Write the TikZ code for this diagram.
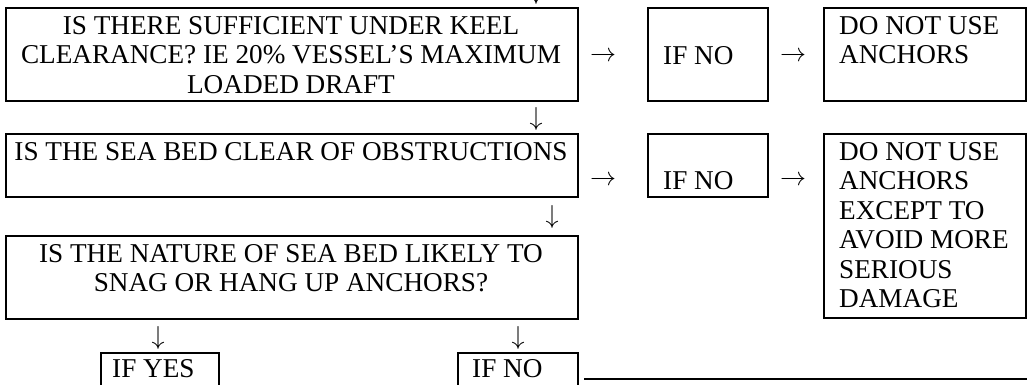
\documentclass[tikz,border=0pt]{standalone}
\usepackage{fontspec}
\usepackage{graphicx}
\setmainfont{Liberation Serif}
\usetikzlibrary{calc}
\newcommand{\myrarr}{\scalebox{2.6}{$\rightarrow$}}
\newcommand{\mydarr}{\scalebox{2.6}{$\downarrow$}}
\begin{document}
\begin{tikzpicture}[x=1pt,y=-1pt,
  box/.style={draw, line width=2pt, inner sep=0pt, anchor=north west},
  txt/.style={inner sep=0pt, font=\fontsize{27.2}{29.5}\selectfont},
  ctxt/.style={txt, anchor=north, align=center},
  ltxt/.style={txt, anchor=north west, align=left},
  arr/.style={inner sep=0pt}]
\useasboundingbox (0,0) rectangle (1027,385);
% boxes
\node[box, minimum width=572pt, minimum height=93pt] (q1) at (5,7) {};
\node[box, minimum width=120pt, minimum height=93pt] (n1) at (647,7) {};
\node[box, minimum width=202pt, minimum height=93pt] (d1) at (823,7) {};
\node[box, minimum width=572pt, minimum height=63pt] (q2) at (5,133) {};
\node[box, minimum width=120pt, minimum height=63pt] (n2) at (647,133) {};
\node[box, minimum width=202pt, minimum height=184pt] (d2) at (823,133) {};
\node[box, minimum width=572pt, minimum height=83pt] (q3) at (5,235) {};
\node[box, minimum width=118pt, minimum height=52pt] (y1) at (100,352) {};
\node[box, minimum width=120pt, minimum height=52pt] (n3) at (457,352) {};
% texts
\node[ctxt] (q1t) at (291,16) {IS THERE SUFFICIENT UNDER KEEL\\CLEARANCE? IE 20\% VESSEL’S MAXIMUM\\LOADED DRAFT};
\node[ltxt] (n1t) at (663,46) {IF NO};
\node[ltxt] (d1t) at (839,16) {DO NOT USE\\ANCHORS};
\node[ctxt] (q2t) at (291,142) {IS THE SEA BED CLEAR OF OBSTRUCTIONS};
\node[ltxt] (n2t) at (663,171) {IF NO};
\node[ltxt] (d2t) at (839,142) {DO NOT USE\\ANCHORS\\EXCEPT TO\\AVOID MORE\\SERIOUS\\DAMAGE};
\node[ctxt] (q3t) at (291,244) {IS THE NATURE OF SEA BED LIKELY TO\\SNAG OR HANG UP ANCHORS?};
\node[ltxt] (y1t) at (112,359) {IF YES};
\node[ltxt] (n3t) at (472,359) {IF NO};
% arrow glyphs
\node[arr] (a0) at (536,-7) {\mydarr};
\node[arr] (a1) at (603,57) {\myrarr};
\node[arr] (a2) at (793,57) {\myrarr};
\node[arr] (a3) at (536,119) {\mydarr};
\node[arr] (a4) at (603,181) {\myrarr};
\node[arr] (a5) at (793,181) {\myrarr};
\node[arr] (a6) at (552,217) {\mydarr};
\node[arr] (a7) at (158,338) {\mydarr};
\node[arr] (a8) at (518,338) {\mydarr};
% bottom line
\coordinate (lend) at (1030,378);
\draw[line width=2pt] ([xshift=5pt]n3.east) -- (n3.east -| lend);
\end{tikzpicture}
\end{document}
